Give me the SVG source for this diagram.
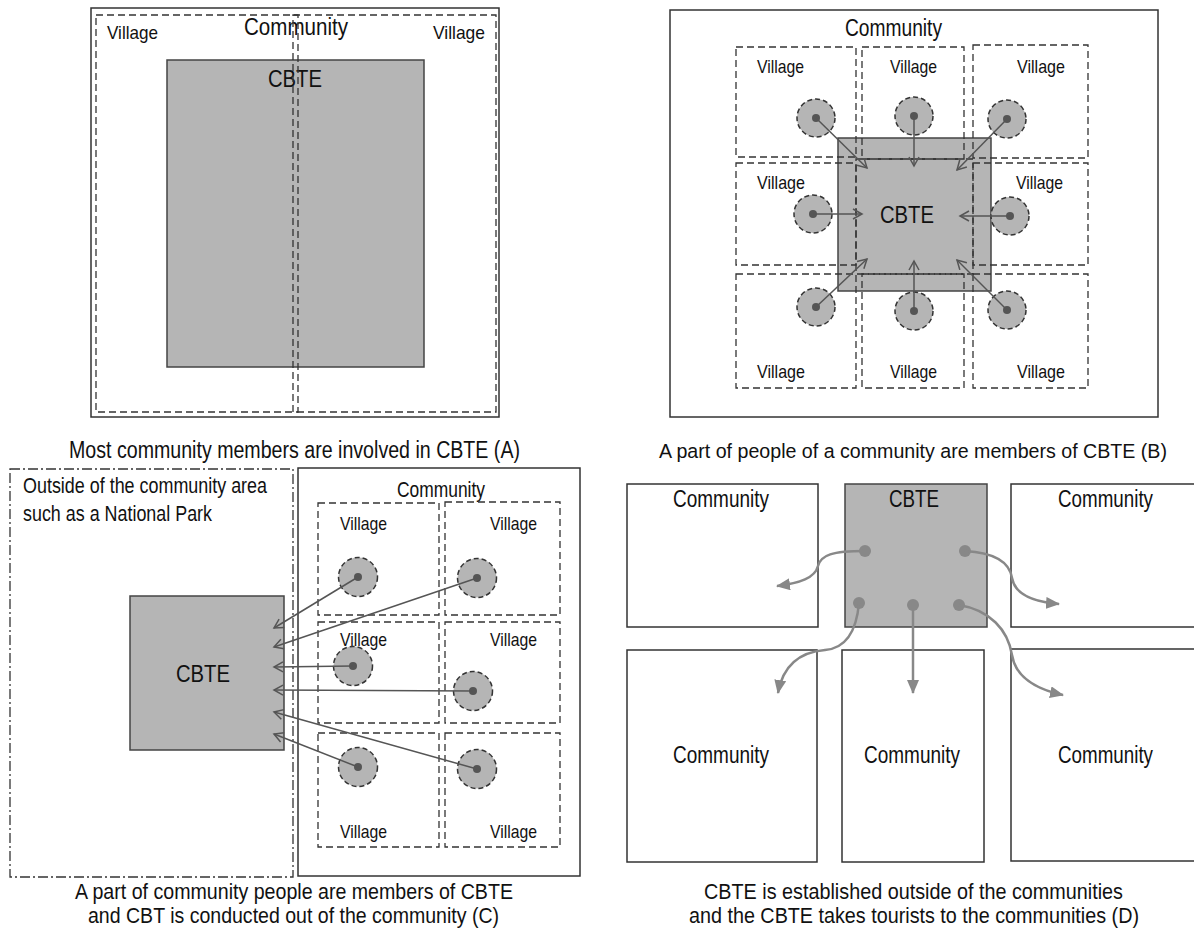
<svg xmlns="http://www.w3.org/2000/svg" width="1194" height="952" viewBox="0 0 1194 952">
<style>
.solid{fill:none;stroke:#333;stroke-width:1.5}
.white{fill:#fff;stroke:#333;stroke-width:1.5}
.dash{fill:none;stroke:#333;stroke-width:1.3;stroke-dasharray:7 4}
.dashdot{fill:none;stroke:#333;stroke-width:1.3;stroke-dasharray:10 3 2 3}
.cbte{fill:#b5b5b5;stroke:#444;stroke-width:1.5}
.circ{fill:#b5b5b5;stroke:#333;stroke-width:1.5;stroke-dasharray:5 3}
.dot{fill:#555}
.arr{fill:none;stroke:#555;stroke-width:1.5;marker-end:url(#open)}
.darr{fill:none;stroke:#888;stroke-width:2.5;marker-end:url(#tri)}
.ddot{fill:#888}
text{font-family:"Liberation Sans Narrow","Arial Narrow","Liberation Sans",Arial,sans-serif;fill:#111}
.v{font-size:18.5px}
.t{font-size:23px}
.cap{font-size:23px}
.cap2{font-size:21.5px}
</style>
<defs>
<marker id="open" markerUnits="userSpaceOnUse" markerWidth="12" markerHeight="12" refX="10" refY="6" orient="auto">
<path d="M1,1 L10,6 L1,11" fill="none" stroke="#555" stroke-width="1.5"/>
</marker>
<marker id="tri" markerUnits="userSpaceOnUse" markerWidth="15" markerHeight="12" refX="13" refY="6" orient="auto">
<path d="M0,0 L14,6 L0,12 Z" fill="#888"/>
</marker>
</defs>

<!-- Panel A -->
<g id="A-community">
<rect class="white" x="91" y="8" width="408" height="409"/>
<text class="t" x="244" y="35" textLength="104" lengthAdjust="spacingAndGlyphs">Community</text>
</g>
<g id="A-cbte">
<rect class="cbte" x="167" y="60" width="257" height="307"/>
<text style="font-size:24px" x="268" y="87" textLength="54" lengthAdjust="spacingAndGlyphs">CBTE</text>
</g>
<g id="A-village-left">
<rect class="dash" x="96" y="15" width="202" height="397"/>
<text style="font-size:19px" x="107" y="39" textLength="51" lengthAdjust="spacingAndGlyphs">Village</text>
</g>
<g id="A-village-right">
<rect class="dash" x="293" y="15" width="203" height="397"/>
<text style="font-size:19px" x="433" y="39" textLength="52" lengthAdjust="spacingAndGlyphs">Village</text>
</g>
<text class="cap" x="69" y="458" textLength="451" lengthAdjust="spacingAndGlyphs">Most community members are involved in CBTE (A)</text>

<!-- Panel B -->
<g id="B-community">
<rect class="white" x="670" y="10" width="488" height="407"/>
<text class="t" x="845" y="36" textLength="97" lengthAdjust="spacingAndGlyphs">Community</text>
</g>
<g id="B-cbte">
<rect class="cbte" x="838" y="138" width="153" height="153"/>
<text style="font-size:24px" x="880" y="223" textLength="54" lengthAdjust="spacingAndGlyphs">CBTE</text>
</g>
<g id="B-village-tl"><rect class="dash" x="736" y="47" width="120" height="110"/><text class="v" x="757" y="73" textLength="47" lengthAdjust="spacingAndGlyphs">Village</text></g>
<g id="B-village-tm"><rect class="dash" x="862" y="47" width="102" height="112"/><text class="v" x="890" y="73" textLength="47" lengthAdjust="spacingAndGlyphs">Village</text></g>
<g id="B-village-tr"><rect class="dash" x="973" y="45" width="115" height="113"/><text class="v" x="1017" y="73" textLength="48" lengthAdjust="spacingAndGlyphs">Village</text></g>
<g id="B-village-ml"><rect class="dash" x="736" y="163" width="120" height="102"/><text class="v" x="757" y="189" textLength="48" lengthAdjust="spacingAndGlyphs">Village</text></g>
<g id="B-village-mc"><rect class="dash" x="856" y="159" width="117" height="115"/></g>
<g id="B-village-mr"><rect class="dash" x="973" y="163" width="115" height="102"/><text class="v" x="1016" y="189" textLength="47" lengthAdjust="spacingAndGlyphs">Village</text></g>
<g id="B-village-bl"><rect class="dash" x="736" y="274" width="120" height="114"/><text class="v" x="757" y="378" textLength="48" lengthAdjust="spacingAndGlyphs">Village</text></g>
<g id="B-village-bm"><rect class="dash" x="862" y="274" width="102" height="114"/><text class="v" x="890" y="378" textLength="47" lengthAdjust="spacingAndGlyphs">Village</text></g>
<g id="B-village-br"><rect class="dash" x="973" y="274" width="115" height="114"/><text class="v" x="1017" y="378" textLength="48" lengthAdjust="spacingAndGlyphs">Village</text></g>
<g id="B-members">
<circle class="circ" cx="816" cy="118" r="19"/><circle class="circ" cx="914" cy="116" r="19"/><circle class="circ" cx="1007" cy="119" r="19"/>
<circle class="circ" cx="813" cy="214" r="19"/><circle class="circ" cx="1010" cy="216" r="19"/>
<circle class="circ" cx="816" cy="307" r="19"/><circle class="circ" cx="914" cy="311" r="19"/><circle class="circ" cx="1007" cy="310" r="19"/>
<circle class="dot" cx="816" cy="118" r="4"/><circle class="dot" cx="914" cy="116" r="4"/><circle class="dot" cx="1007" cy="119" r="4"/>
<circle class="dot" cx="813" cy="214" r="4"/><circle class="dot" cx="1010" cy="216" r="4"/>
<circle class="dot" cx="816" cy="307" r="4"/><circle class="dot" cx="914" cy="311" r="4"/><circle class="dot" cx="1007" cy="310" r="4"/>
</g>
<g id="B-connectors">
<line class="arr" x1="816" y1="118" x2="867" y2="168"/>
<line class="arr" x1="914" y1="116" x2="914" y2="166"/>
<line class="arr" x1="1007" y1="119" x2="957" y2="170"/>
<line class="arr" x1="813" y1="214" x2="862" y2="214"/>
<line class="arr" x1="1010" y1="216" x2="960" y2="216"/>
<line class="arr" x1="816" y1="307" x2="867" y2="259"/>
<line class="arr" x1="914" y1="311" x2="914" y2="261"/>
<line class="arr" x1="1007" y1="310" x2="957" y2="260"/>
</g>
<text style="font-size:20.5px" x="659" y="458" textLength="508" lengthAdjust="spacingAndGlyphs">A part of people of a community are members of CBTE (B)</text>

<!-- Panel C -->
<g id="C-outside">
<rect class="dashdot" x="10" y="469" width="283" height="408"/>
<text style="font-size:22px" x="23" y="493" textLength="244" lengthAdjust="spacingAndGlyphs">Outside of the community area</text>
<text style="font-size:22px" x="23" y="521" textLength="189" lengthAdjust="spacingAndGlyphs">such as a National Park</text>
</g>
<g id="C-community">
<rect class="solid" x="298" y="468" width="282" height="408"/>
<text style="font-size:21.5px" x="397" y="497" textLength="88" lengthAdjust="spacingAndGlyphs">Community</text>
</g>
<g id="C-cbte">
<rect class="cbte" x="130" y="596" width="154" height="154"/>
<text style="font-size:24px" x="176" y="682" textLength="54" lengthAdjust="spacingAndGlyphs">CBTE</text>
</g>
<g id="C-village-1l"><rect class="dash" x="318" y="503" width="121" height="112"/><text class="v" x="340" y="530" textLength="47" lengthAdjust="spacingAndGlyphs">Village</text></g>
<g id="C-village-1r"><rect class="dash" x="445" y="502" width="115" height="113"/><text class="v" x="490" y="530" textLength="47" lengthAdjust="spacingAndGlyphs">Village</text></g>
<g id="C-village-2l"><rect class="dash" x="318" y="622" width="121" height="101"/><text class="v" x="340" y="646" textLength="47" lengthAdjust="spacingAndGlyphs">Village</text></g>
<g id="C-village-2r"><rect class="dash" x="445" y="622" width="115" height="101"/><text class="v" x="490" y="646" textLength="47" lengthAdjust="spacingAndGlyphs">Village</text></g>
<g id="C-village-3l"><rect class="dash" x="318" y="733" width="121" height="114"/><text class="v" x="340" y="838" textLength="47" lengthAdjust="spacingAndGlyphs">Village</text></g>
<g id="C-village-3r"><rect class="dash" x="445" y="733" width="115" height="114"/><text class="v" x="490" y="838" textLength="47" lengthAdjust="spacingAndGlyphs">Village</text></g>
<g id="C-members">
<circle class="circ" cx="358" cy="577" r="19.5"/><circle class="circ" cx="477" cy="578" r="19.5"/>
<circle class="circ" cx="353" cy="666" r="19.5"/><circle class="circ" cx="473" cy="691" r="19.5"/>
<circle class="circ" cx="358" cy="767" r="19.5"/><circle class="circ" cx="477" cy="769" r="19.5"/>
<circle class="dot" cx="358" cy="577" r="4"/><circle class="dot" cx="477" cy="578" r="4"/>
<circle class="dot" cx="353" cy="666" r="4"/><circle class="dot" cx="473" cy="691" r="4"/>
<circle class="dot" cx="358" cy="767" r="4"/><circle class="dot" cx="477" cy="769" r="4"/>
</g>
<g id="C-connectors">
<line class="arr" x1="358" y1="577" x2="274" y2="628"/>
<line class="arr" x1="477" y1="578" x2="274" y2="647"/>
<line class="arr" x1="353" y1="666" x2="274" y2="667"/>
<line class="arr" x1="473" y1="691" x2="274" y2="690"/>
<line class="arr" x1="477" y1="769" x2="274" y2="712"/>
<line class="arr" x1="358" y1="767" x2="274" y2="734"/>
</g>
<text class="cap2" x="75" y="899" textLength="438" lengthAdjust="spacingAndGlyphs">A part of community people are members of CBTE</text>
<text class="cap2" x="88" y="923" textLength="411" lengthAdjust="spacingAndGlyphs">and CBT is conducted out of the community (C)</text>

<!-- Panel D -->
<g id="D-community-tl"><rect class="solid" x="627" y="484" width="191" height="143"/><text class="t" x="673" y="507" textLength="96" lengthAdjust="spacingAndGlyphs">Community</text></g>
<g id="D-cbte"><rect class="cbte" x="845" y="484" width="142" height="143"/><text class="t" x="889" y="507" textLength="50" lengthAdjust="spacingAndGlyphs">CBTE</text>
<circle class="ddot" cx="865" cy="551" r="6"/><circle class="ddot" cx="965" cy="551" r="6"/>
<circle class="ddot" cx="859" cy="603" r="6"/><circle class="ddot" cx="913" cy="605" r="6"/><circle class="ddot" cx="959" cy="605" r="6"/>
</g>
<g id="D-community-tr"><rect class="solid" x="1011" y="484" width="195" height="143"/><text class="t" x="1058" y="507" textLength="95" lengthAdjust="spacingAndGlyphs">Community</text></g>
<g id="D-community-bl"><rect class="solid" x="627" y="650" width="190" height="212"/><text class="t" x="673" y="763" textLength="96" lengthAdjust="spacingAndGlyphs">Community</text></g>
<g id="D-community-bm"><rect class="solid" x="842" y="650" width="142" height="212"/><text class="t" x="864" y="763" textLength="96" lengthAdjust="spacingAndGlyphs">Community</text></g>
<g id="D-community-br"><rect class="solid" x="1011" y="649" width="195" height="212"/><text class="t" x="1058" y="763" textLength="95" lengthAdjust="spacingAndGlyphs">Community</text></g>
<g id="D-connectors">
<path class="darr" d="M865,551 C832,551 821,555 818,566 C815,578 800,583 777,586"/>
<path class="darr" d="M965,551 C1000,553 1010,565 1012,578 C1015,595 1035,602 1059,604"/>
<path class="darr" d="M859,603 C857,625 850,648 825,650 C800,652 783,665 778,693"/>
<path class="darr" d="M913,605 L913,693"/>
<path class="darr" d="M959,605 C990,610 1008,630 1012,655 C1016,680 1040,690 1063,695"/>
</g>
<text class="cap2" x="704" y="899" textLength="419" lengthAdjust="spacingAndGlyphs">CBTE is established outside of the communities</text>
<text class="cap2" x="689" y="923" textLength="450" lengthAdjust="spacingAndGlyphs">and the CBTE takes tourists to the communities (D)</text>
</svg>
